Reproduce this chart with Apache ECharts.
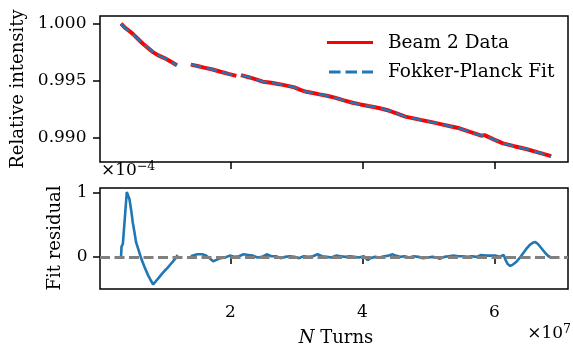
<!DOCTYPE html>
<html>
<head>
<meta charset="utf-8">
<script src="https://cdn.jsdelivr.net/npm/echarts@6/dist/echarts.min.js"></script>
<style>
html,body{margin:0;padding:0;background:#fff;}
#chart{width:573px;height:348px;}
</style>
</head>
<body>
<div id="chart"></div>
<script>
// ---- data (turns in units of 1e7) ----
var dataTurns = [0.343,0.40,0.47,0.52,0.60,0.67,0.75,0.82,0.90,1.00,1.10,1.19,null,
  1.40,1.50,1.60,1.73,1.85,1.97,2.09,null,
  2.16,2.29,2.40,2.49,2.62,2.74,2.85,2.97,3.06,3.15,3.25,3.35,3.46,3.58,3.72,3.85,3.97,4.09,4.21,4.31,4.41,
  4.56,4.65,4.74,4.90,5.07,5.20,5.33,5.47,5.63,5.80,5.85,5.98,6.13,6.30,6.48,6.66,6.86];
var beamData = [1.00000,0.99965,0.99935,0.99910,0.99865,0.99825,0.99787,0.99752,0.99723,0.99697,0.99665,0.99635,null,
  0.99640,0.99628,0.99613,0.99597,0.99577,0.99558,0.99541,null,
  0.99548,0.99527,0.99508,0.99490,0.99480,0.99468,0.99455,0.99440,0.99418,0.99401,0.99390,0.99378,0.99366,0.99350,0.99325,0.99305,0.99290,0.99276,0.99263,0.99250,0.99234,
  0.99202,0.99183,0.99172,0.99152,0.99132,0.99115,0.99098,0.99080,0.99048,0.99015,0.99020,0.98985,0.98948,0.98923,0.98898,0.98868,0.98836];
var fitData = [1.00000,0.99963,0.99931,0.99907,0.99864,0.99826,0.99789,0.99754,0.99724,0.99697,0.99665,0.99635,null,
  0.99640,0.99628,0.99613,0.99597,0.99577,0.99558,0.99541,null,
  0.99548,0.99527,0.99508,0.99490,0.99480,0.99468,0.99455,0.99440,0.99418,0.99401,0.99390,0.99378,0.99366,0.99350,0.99325,0.99305,0.99290,0.99276,0.99263,0.99250,0.99234,
  0.99202,0.99183,0.99172,0.99152,0.99132,0.99115,0.99098,0.99080,0.99048,0.99015,0.99020,0.98985,0.98948,0.98923,0.98898,0.98868,0.98836];

var residTurns = [0.343,0.350,0.37,0.40,0.43,0.45,0.47,0.50,0.52,0.55,0.57,0.61,0.65,0.70,0.75,0.79,0.83,0.87,0.91,0.95,1.00,1.04,1.08,1.13,1.17,1.20,null,
  1.40,1.43,1.46,1.50,1.53,1.57,1.60,1.63,1.67,1.70,1.74,1.78,1.81,1.85,1.88,1.92,1.95,1.99,2.02,2.06,2.09,2.13,2.16,2.20,2.23,2.27,2.30,2.34,2.37,
  2.41,2.44,2.48,2.51,2.55,2.58,2.62,2.65,2.69,2.72,2.76,2.79,2.83,2.86,2.90,2.93,2.97,3.00,3.04,3.07,3.11,3.14,3.18,3.21,3.25,3.28,3.32,3.35,
  3.39,3.42,3.46,3.49,3.53,3.56,3.60,3.63,3.67,3.70,3.74,3.77,3.81,3.84,3.88,3.91,3.95,3.98,4.02,4.05,4.08,4.12,4.15,4.19,4.22,4.26,4.29,4.33,
  4.36,4.40,4.43,4.46,4.50,4.53,4.57,4.60,4.64,4.67,4.71,4.74,4.78,4.81,4.85,4.88,4.92,4.95,4.99,5.02,5.06,5.09,5.13,5.17,5.20,5.24,5.27,5.31,
  5.34,5.38,5.41,5.45,5.48,5.52,5.55,5.59,5.62,5.66,5.69,5.73,5.76,5.80,5.83,5.87,5.90,5.94,5.97,6.01,6.04,6.08,6.11,6.14,
  6.17,6.20,6.24,6.28,6.33,6.38,6.43,6.48,6.53,6.58,6.62,6.66,6.70,6.74,6.78,6.82,6.86];
var residual = [0.00,0.16,0.20,0.60,1.01,0.98,0.90,0.70,0.54,0.36,0.23,0.10,-0.03,-0.16,-0.28,-0.36,-0.43,-0.38,-0.33,-0.28,-0.22,-0.18,-0.13,-0.07,-0.02,0.03,null,
  0.01,0.02,0.03,0.04,0.02,0.04,0.03,0.02,-0.01,-0.04,-0.07,-0.05,-0.03,-0.02,0.00,-0.01,0.01,0.02,0.01,0.00,0.02,0.01,0.03,0.04,0.02,0.03,0.01,0.02,0.00,
  -0.01,0.01,0.00,0.03,0.04,0.02,0.01,-0.01,0.01,0.00,-0.02,0.01,0.00,-0.01,0.01,0.02,0.00,0.01,-0.02,0.00,0.01,-0.01,0.00,0.02,0.01,0.03,0.04,0.03,
  0.01,0.02,0.00,0.01,-0.01,0.01,0.02,0.00,0.01,-0.02,0.00,-0.01,0.01,0.02,0.00,0.01,-0.01,0.00,0.01,-0.02,-0.05,-0.02,-0.01,0.00,0.01,-0.01,0.02,0.01,
  0.00,0.02,0.03,0.04,0.02,0.01,0.00,-0.01,0.01,-0.02,-0.01,0.00,0.01,-0.01,0.00,0.01,-0.02,0.00,-0.01,0.01,0.00,-0.02,-0.01,-0.03,-0.02,0.00,-0.01,0.01,
  0.00,0.02,0.00,0.01,0.02,0.01,0.03,0.00,0.02,0.01,0.02,0.00,0.01,0.03,0.01,0.02,0.04,0.02,0.01,0.02,0.01,0.00,0.02,0.03,
  -0.05,-0.11,-0.14,-0.12,-0.08,-0.02,0.05,0.12,0.18,0.22,0.23,0.20,0.15,0.10,0.05,0.01,-0.01];

var xTicks = [2, 4, 6];
var yTicksTop = [0.990, 0.995, 1.000];
var yTicksBottom = [0, 1];
var legendNames = ['Beam 2 Data', 'Fokker-Planck Fit'];

function pairs(xs, ys) {
  var out = [];
  for (var i = 0; i < xs.length; i++) {
    if (xs[i] === null || ys[i] === null) out.push([null, null]);
    else out.push([xs[i], ys[i]]);
  }
  return out;
}

var FONT = 'DejaVu Serif';
var chart = echarts.init(document.getElementById('chart'), null, {renderer: 'canvas'});

function txt(x, y, s, size, align, vAlign, extra) {
  var st = {text: s, fontFamily: FONT, fontSize: size, fill: '#000', align: align, verticalAlign: vAlign};
  if (extra) for (var k in extra) st[k] = extra[k];
  return {type: 'text', x: x, y: y, style: st};
}

function xAxisCfg(gi) {
  return {
    type: 'value', gridIndex: gi, min: 0.024, max: 7.115,
    axisLine: {show: false},
    axisTick: {show: true, inside: false, length: 7, customValues: xTicks, lineStyle: {color: '#000', width: 1.5}},
    axisLabel: {show: false},
    splitLine: {show: false}
  };
}

var relTitle = txt(18, 89, 'Relative intensity', 18, 'center', 'middle');
relTitle.rotation = Math.PI / 2;
var resTitle = txt(55, 238, 'Fit residual', 18, 'center', 'middle');
resTitle.rotation = Math.PI / 2;

var staticGraphics = [
  // legend
  {type: 'line', shape: {x1: 327, y1: 42.5, x2: 373, y2: 42.5}, style: {stroke: '#ff0000', lineWidth: 3}},
  txt(388, 43, legendNames[0], 18.5, 'left', 'middle'),
  {type: 'line', shape: {x1: 329, y1: 72, x2: 373, y2: 72}, style: {stroke: '#1f77b4', lineWidth: 3, lineDash: [11.5, 5]}},
  txt(388, 72, legendNames[1], 18.5, 'left', 'middle'),
  relTitle, resTitle,
  txt(336, 338, '{i|N} Turns', 18, 'center', 'middle', {rich: {i: {fontFamily: FONT, fontStyle: 'italic', fontSize: 18}}}),
  txt(101, 182, '×10{s|−4}', 17, 'left', 'bottom', {rich: {s: {fontFamily: FONT, fontSize: 12.5, padding: [0, 0, 9, 0]}}}),
  txt(571, 345, '×10{s|7}', 17, 'right', 'bottom', {rich: {s: {fontFamily: FONT, fontSize: 12.5, padding: [0, 0, 9, 0]}}})
];

var option = {
  animation: false,
  backgroundColor: '#fff',
  grid: [
    {left: 100, top: 16, width: 468, height: 146, show: true, borderColor: '#000', borderWidth: 1.5, backgroundColor: 'transparent'},
    {left: 100, top: 188, width: 468, height: 101, show: true, borderColor: '#000', borderWidth: 1.5, backgroundColor: 'transparent'}
  ],
  xAxis: [xAxisCfg(0), xAxisCfg(1)],
  yAxis: [
    {type: 'value', gridIndex: 0, min: 0.98784, max: 1.00067,
     axisLine: {show: false},
     axisTick: {show: true, length: 7, customValues: yTicksTop, lineStyle: {color: '#000', width: 1.5}},
     axisLabel: {show: false},
     splitLine: {show: false}},
    {type: 'value', gridIndex: 1, min: -0.50, max: 1.072,
     axisLine: {show: false},
     axisTick: {show: true, length: 7, customValues: yTicksBottom, lineStyle: {color: '#000', width: 1.5}},
     axisLabel: {show: false},
     splitLine: {show: false}}
  ],
  series: [
    {name: legendNames[0], type: 'line', xAxisIndex: 0, yAxisIndex: 0, data: pairs(dataTurns, beamData),
     showSymbol: false, symbol: 'none', connectNulls: false, z: 2,
     lineStyle: {color: '#ff0000', width: 4}, itemStyle: {color: '#ff0000'}},
    {name: legendNames[1], type: 'line', xAxisIndex: 0, yAxisIndex: 0, data: pairs(dataTurns, fitData),
     showSymbol: false, symbol: 'none', connectNulls: false, z: 3,
     lineStyle: {color: '#1f77b4', width: 2.4, type: [11, 5]}, itemStyle: {color: '#1f77b4'}},
    {name: 'zero', type: 'line', xAxisIndex: 1, yAxisIndex: 1, data: pairs(residTurns, residual),
     showSymbol: false, symbol: 'none', z: 1, silent: true,
     lineStyle: {opacity: 0, width: 0},
     markLine: {silent: true, symbol: 'none', label: {show: false},
       lineStyle: {color: '#808080', width: 2.8, type: [10, 4.5]},
       data: [{yAxis: 0}]}},
    {name: 'residual', type: 'line', xAxisIndex: 1, yAxisIndex: 1, data: pairs(residTurns, residual),
     showSymbol: false, symbol: 'none', connectNulls: false, z: 4,
     lineStyle: {color: '#1f77b4', width: 2.6}, itemStyle: {color: '#1f77b4'}}
  ],
  graphic: staticGraphics
};
chart.setOption(option);

// tick labels, positioned through the axes' own scales
var tickGraphics = [];
var TS = 17;
xTicks.forEach(function (v) {
  var px = chart.convertToPixel({xAxisIndex: 1}, v);
  tickGraphics.push(txt(px, 313, String(v), TS, 'center', 'middle'));
});
yTicksTop.forEach(function (v) {
  var py = chart.convertToPixel({yAxisIndex: 0}, v);
  tickGraphics.push(txt(86.5, py, v.toFixed(3), TS, 'right', 'middle'));
});
yTicksBottom.forEach(function (v) {
  var py = chart.convertToPixel({yAxisIndex: 1}, v);
  tickGraphics.push(txt(87.5, py, String(v), TS, 'right', 'middle'));
});
chart.setOption({graphic: staticGraphics.concat(tickGraphics)});
</script>
</body>
</html>
